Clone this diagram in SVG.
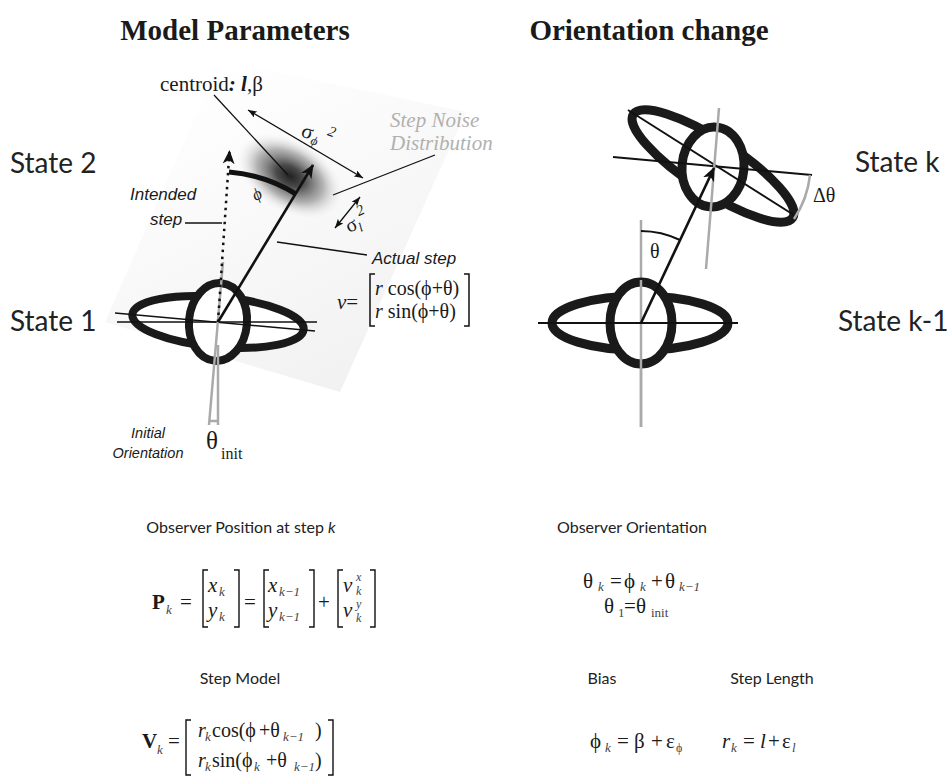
<svg xmlns="http://www.w3.org/2000/svg" width="950" height="780" viewBox="0 0 950 780">
<style>
.serif{font-family:"Liberation Serif","DejaVu Serif",serif;fill:#1a1a1a}
.sans{font-family:"Liberation Sans",Arial,sans-serif;fill:#1a1a1a}
.my{font-family:Lato,"Open Sans",sans-serif;fill:#222}
.it{font-style:italic}
.bd{font-weight:bold}
.sub{font-size:13px;font-style:italic;fill:#444}
.thick{fill:#fff;stroke:#1a1a1a}
.ln{stroke:#111;fill:none}
.gray{stroke:#aaa;fill:none;stroke-width:2.5}
</style>
<defs>
<linearGradient id="bg" gradientUnits="userSpaceOnUse" x1="200" y1="70" x2="360" y2="390">
<stop offset="0" stop-color="#ffffff"/>
<stop offset="1" stop-color="#f1f1f1"/>
</linearGradient>
<radialGradient id="blob" cx="0.5" cy="0.5" r="0.5">
<stop offset="0" stop-color="#222"/>
<stop offset="0.25" stop-color="#4a4a4a"/>
<stop offset="0.6" stop-color="#9a9a9a" stop-opacity="0.75"/>
<stop offset="1" stop-color="#fff" stop-opacity="0"/>
</radialGradient>
<marker id="ahBig" viewBox="0 0 14 12" refX="13" refY="6" markerWidth="14" markerHeight="12" markerUnits="userSpaceOnUse" orient="auto">
<path d="M0,0 L14,6 L0,12 L4,6 Z" fill="#111"/>
</marker>
<marker id="ahSm" viewBox="0 0 9 7" refX="9" refY="3.5" markerWidth="9" markerHeight="7" markerUnits="userSpaceOnUse" orient="auto-start-reverse">
<path d="M0,0 L9,3.5 L0,7 L2,3.5 Z" fill="#111"/>
</marker>
</defs>

<!-- left figure background -->
<polygon id="noise-region" points="220,60 466,112 340,392 105,322" fill="url(#bg)"/>
<ellipse id="step-blob" cx="290" cy="176" rx="60" ry="37" transform="rotate(31 290 176)" fill="url(#blob)"/>

<!-- titles -->
<text class="serif bd" x="235" y="40" font-size="29" text-anchor="middle">Model Parameters</text>
<text class="serif bd" x="649" y="40" font-size="29" text-anchor="middle">Orientation change</text>

<!-- State 1 foot -->
<g id="state1-foot">
<ellipse class="thick" cx="218" cy="322" rx="86" ry="25" stroke-width="8" transform="rotate(5 218 322)"/>
<ellipse class="thick" cx="218" cy="322" rx="29" ry="39" stroke-width="8" transform="rotate(5 218 322)"/>
<line class="ln" x1="117" y1="322" x2="317" y2="322" stroke-width="1.6"/>
<line class="ln" x1="115" y1="313" x2="315" y2="331" stroke-width="1.6"/>
<line class="gray" x1="223" y1="262" x2="209" y2="425"/>
<line class="gray" x1="218" y1="345" x2="218" y2="425"/>
<line class="gray" x1="209" y1="421" x2="218" y2="421" stroke-width="2"/>
</g>

<!-- State k-1 foot (right) -->
<g id="statek1-foot">
<line class="gray" x1="641" y1="220" x2="641" y2="427"/>
<ellipse class="thick" cx="640" cy="323" rx="88" ry="27" stroke-width="9"/>
<ellipse class="thick" cx="641" cy="323" rx="31" ry="41" stroke-width="9"/>
<line class="gray" x1="641" y1="280" x2="641" y2="427"/>
<line class="ln" x1="538" y1="323" x2="738" y2="323" stroke-width="2"/>
</g>

<!-- State k foot -->
<g id="statek-foot">
<ellipse class="thick" cx="713" cy="166" rx="95" ry="26" stroke-width="9" transform="rotate(33 713 166)"/>
<ellipse class="thick" cx="713" cy="167" rx="31" ry="40" stroke-width="9" transform="rotate(5 713 167)"/>
<line class="ln" x1="628" y1="110" x2="797" y2="217" stroke-width="2"/>
<line class="ln" x1="613" y1="157" x2="812" y2="175" stroke-width="2"/>
<line class="gray" x1="719" y1="108" x2="706" y2="269"/>
<path class="gray" d="M810,175 A97,97 0 0,1 794,219"/>
</g>

<!-- connectors -->
<g id="connectors">
<line class="ln" x1="218" y1="322" x2="229.5" y2="151" stroke-width="2.5" stroke-dasharray="2.5 4.5" marker-end="url(#ahBig)"/>
<line class="ln" x1="218" y1="322" x2="313" y2="165" stroke-width="2.6" marker-end="url(#ahBig)"/>
<path class="ln" d="M229,172 A150,150 0 0,1 296,194" stroke-width="5"/>
<line class="ln" x1="641" y1="323" x2="714" y2="168" stroke-width="2.6" marker-end="url(#ahBig)"/>
<path class="ln" d="M641,231 A92,92 0 0,1 680,240" stroke-width="2"/>
<line class="ln" x1="214" y1="95" x2="288" y2="175" stroke-width="1.3"/>
<line class="ln" x1="248" y1="110" x2="363" y2="178" stroke-width="1.3" marker-start="url(#ahSm)" marker-end="url(#ahSm)"/>
<line class="ln" x1="333" y1="195" x2="435" y2="155" stroke-width="1.3"/>
<line class="ln" x1="335" y1="228" x2="360" y2="197" stroke-width="1.3" marker-start="url(#ahSm)" marker-end="url(#ahSm)"/>
<line class="ln" x1="185" y1="223" x2="222" y2="223" stroke-width="1.3"/>
<line class="ln" x1="277" y1="242" x2="367" y2="255" stroke-width="1.3"/>
</g>

<!-- left figure labels -->
<text class="serif" x="160" y="91" font-size="21">centroid<tspan class="bd it">: l</tspan>,β</text>
<g transform="rotate(20 312 135)">
<text class="serif" x="301" y="140" font-size="21">σ</text>
<text class="serif it" x="313" y="144" font-size="13">ϕ</text>
<text class="serif it" x="326" y="130" font-size="15">2</text>
</g>
<text class="serif it" x="390" y="127" font-size="21" style="fill:#b0b0b0">Step Noise</text>
<text class="serif it" x="390" y="150" font-size="21" style="fill:#b0b0b0">Distribution</text>
<g transform="rotate(-25 356 222)">
<text class="serif" x="345" y="229" font-size="20">σ</text>
<text class="serif it" x="356" y="233" font-size="13">l</text>
<text class="serif it" x="361" y="218" font-size="15">2</text>
</g>
<text class="serif it" x="252" y="199" font-size="17" transform="rotate(-30 258 193)">ϕ</text>
<text class="sans it" x="130" y="200" font-size="17">Intended</text>
<text class="sans it" x="150" y="225" font-size="17">step</text>
<text class="sans it" x="372" y="264" font-size="17">Actual step</text>
<text class="serif" x="337" y="309" font-size="21"><tspan class="it">v</tspan>=</text>
<path class="ln" d="M375,274 L370,274 L370,326 L375,326" stroke-width="1.5"/>
<path class="ln" d="M464,274 L469,274 L469,326 L464,326" stroke-width="1.5"/>
<text class="serif" x="375" y="295" font-size="20"><tspan class="it">r</tspan> cos(ϕ+θ)</text>
<text class="serif" x="375" y="318" font-size="20"><tspan class="it">r</tspan> sin(ϕ+θ)</text>
<text class="sans it" x="148" y="438" font-size="14.5" text-anchor="middle">Initial</text>
<text class="sans it" x="148" y="458" font-size="14.5" text-anchor="middle">Orientation</text>
<text class="serif" x="206" y="449" font-size="25">θ</text>
<text class="serif" x="221" y="459" font-size="16">init</text>

<!-- right figure labels -->
<text class="serif" x="650" y="258" font-size="20">θ</text>
<text class="serif" x="813" y="202" font-size="20">Δθ</text>

<!-- state labels -->
<text class="my" x="10" y="173" font-size="28">State 2</text>
<text class="my" x="10" y="331" font-size="28">State 1</text>
<text class="my" x="855" y="172" font-size="28">State k</text>
<text class="my" x="838" y="331" font-size="28">State k-1</text>

<!-- bottom section -->
<text class="my" x="241" y="533" font-size="16" text-anchor="middle">Observer Position at step <tspan font-style="italic">k</tspan></text>
<text class="my" x="632" y="533" font-size="16" text-anchor="middle">Observer Orientation</text>

<g id="eq-position">
<text class="serif bd" x="152" y="609" font-size="21">P</text>
<text class="serif sub" x="166" y="614">k</text>
<text class="serif" x="180" y="609" font-size="21">=</text>
<path class="ln" d="M208,570 L203,570 L203,627 L208,627" stroke-width="1.4"/>
<path class="ln" d="M234,570 L239,570 L239,627 L234,627" stroke-width="1.4"/>
<text class="serif it" x="208" y="592" font-size="21">x</text>
<text class="serif sub" x="219" y="596">k</text>
<text class="serif it" x="208" y="617" font-size="21">y</text>
<text class="serif sub" x="219" y="621">k</text>
<text class="serif" x="244" y="609" font-size="21">=</text>
<path class="ln" d="M269,570 L264,570 L264,627 L269,627" stroke-width="1.4"/>
<path class="ln" d="M309,570 L314,570 L314,627 L309,627" stroke-width="1.4"/>
<text class="serif it" x="268" y="592" font-size="21">x</text>
<text class="serif sub" x="279" y="596">k−1</text>
<text class="serif it" x="268" y="617" font-size="21">y</text>
<text class="serif sub" x="279" y="621">k−1</text>
<text class="serif" x="318" y="609" font-size="21">+</text>
<path class="ln" d="M343,570 L338,570 L338,627 L343,627" stroke-width="1.4"/>
<path class="ln" d="M370,570 L375,570 L375,627 L370,627" stroke-width="1.4"/>
<text class="serif it" x="343" y="592" font-size="21">v</text>
<text class="serif it" x="356" y="581" font-size="12" style="fill:#444">x</text>
<text class="serif it" x="356" y="595" font-size="12" style="fill:#444">k</text>
<text class="serif it" x="343" y="617" font-size="21">v</text>
<text class="serif it" x="356" y="608" font-size="12" style="fill:#444">y</text>
<text class="serif it" x="356" y="622" font-size="12" style="fill:#444">k</text>
</g>

<g id="eq-orientation">
<text class="serif" x="583" y="588" font-size="21">θ</text>
<text class="serif sub" x="598" y="591">k</text>
<text class="serif" x="610" y="588" font-size="21">=</text>
<text class="serif" x="624" y="588" font-size="21">ϕ</text>
<text class="serif sub" x="640" y="591">k</text>
<text class="serif" x="651" y="588" font-size="21">+</text>
<text class="serif" x="665" y="588" font-size="21">θ</text>
<text class="serif sub" x="679" y="591">k−1</text>
<text class="serif" x="604" y="613" font-size="21">θ</text>
<text class="serif" x="618" y="617" font-size="13" style="fill:#444">1</text>
<text class="serif" x="624" y="613" font-size="21">=</text>
<text class="serif" x="636" y="613" font-size="21">θ</text>
<text class="serif" x="651" y="617" font-size="13" style="fill:#444">init</text>
</g>

<text class="my" x="240" y="684" font-size="16" text-anchor="middle">Step Model</text>
<text class="my" x="602" y="684" font-size="16" text-anchor="middle">Bias</text>
<text class="my" x="772" y="684" font-size="16" text-anchor="middle">Step Length</text>

<g id="eq-step">
<text class="serif bd" x="142" y="748" font-size="21">V</text>
<text class="serif sub" x="157" y="754">k</text>
<text class="serif" x="168" y="748" font-size="21">=</text>
<path class="ln" d="M191,720 L186,720 L186,775 L191,775" stroke-width="1.4"/>
<path class="ln" d="M328,720 L333,720 L333,775 L328,775" stroke-width="1.4"/>
<text class="serif" y="737" font-size="20"><tspan class="it" x="198">r</tspan><tspan x="212">cos(ϕ</tspan><tspan x="259">+θ</tspan><tspan x="315">)</tspan></text>
<text class="serif sub" x="205" y="741">k</text>
<text class="serif sub" x="283" y="741">k−1</text>
<text class="serif" y="767" font-size="20"><tspan class="it" x="198">r</tspan><tspan x="212">sin(ϕ</tspan><tspan x="266">+θ</tspan><tspan x="315">)</tspan></text>
<text class="serif sub" x="205" y="771">k</text>
<text class="serif sub" x="254" y="771">k</text>
<text class="serif sub" x="294" y="771">k−1</text>
</g>

<g id="eq-bias">
<text class="serif" x="590" y="748" font-size="21">ϕ</text>
<text class="serif sub" x="605" y="752">k</text>
<text class="serif" x="617" y="748" font-size="21">=</text>
<text class="serif" x="634" y="748" font-size="21">β</text>
<text class="serif" x="651" y="748" font-size="21">+</text>
<text class="serif" x="666" y="748" font-size="21">ε</text>
<text class="serif" x="676" y="752" font-size="12" style="fill:#444">ϕ</text>
</g>

<g id="eq-length">
<text class="serif it" x="722" y="748" font-size="21">r</text>
<text class="serif sub" x="731" y="752">k</text>
<text class="serif" x="743" y="748" font-size="21">=</text>
<text class="serif it" x="760" y="748" font-size="21">l</text>
<text class="serif" x="768" y="748" font-size="21">+</text>
<text class="serif" x="782" y="748" font-size="21">ε</text>
<text class="serif sub" x="792" y="752">l</text>
</g>
</svg>
